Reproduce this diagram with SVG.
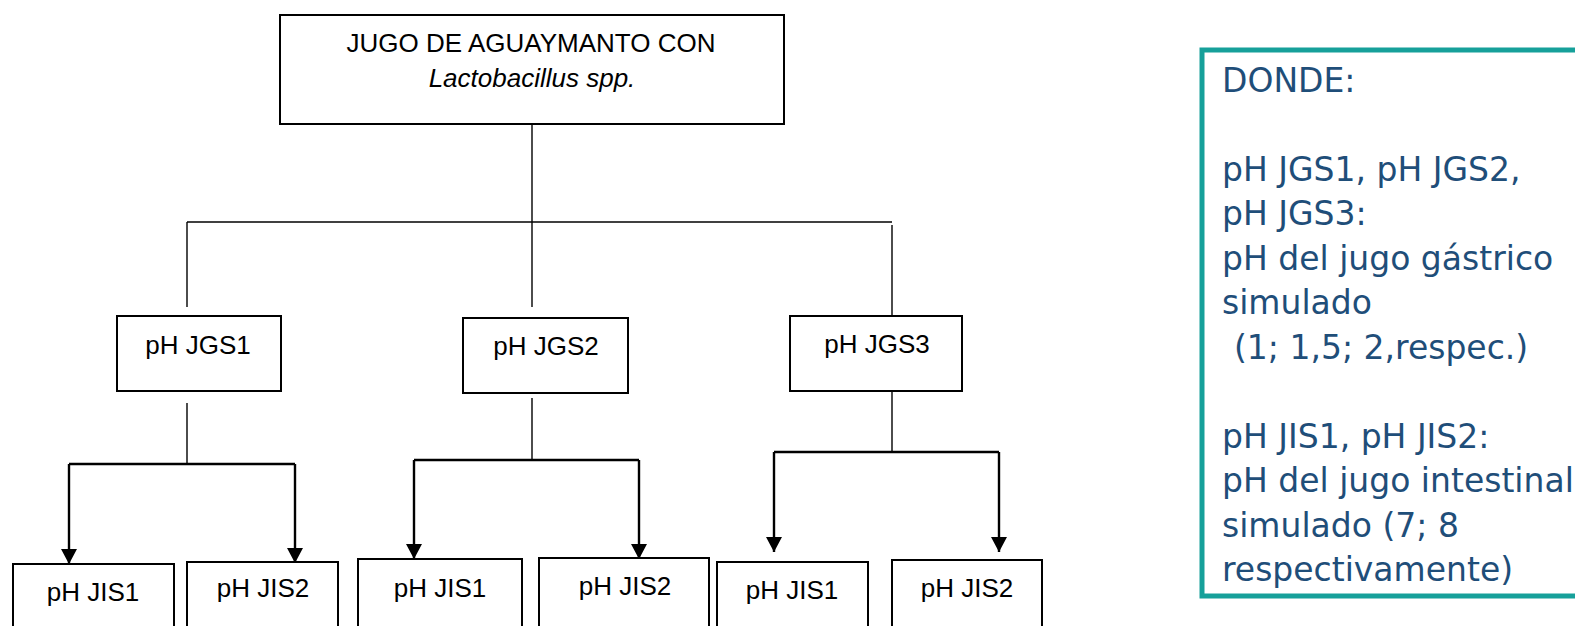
<svg xmlns="http://www.w3.org/2000/svg" width="1575" height="626" viewBox="0 0 1575 626">
<style>
.box{fill:#fff;stroke:#000;stroke-width:2}
.t{font-family:"Liberation Sans",Arial,sans-serif;font-size:26px;fill:#000;text-anchor:middle}
.it{font-style:italic}
.thin{stroke:#000;stroke-width:1.4;fill:none}
.thick{stroke:#000;stroke-width:2.4;fill:none}
.leg{font-family:"DejaVu Sans",Verdana,sans-serif;font-size:33px;fill:#1F4E79}
</style>
<defs>
<marker id="ah" markerUnits="userSpaceOnUse" markerWidth="15" markerHeight="16" refX="15" refY="8" orient="auto">
<path d="M0,0 L15,8 L0,16 z" fill="#000"/>
</marker>
</defs>
<rect width="1575" height="626" fill="#fff"/>
<g id="connectors">
<line class="thin" x1="532" y1="124" x2="532" y2="307"/>
<line class="thin" x1="187" y1="222" x2="892" y2="222"/>
<line class="thin" x1="187" y1="222" x2="187" y2="307"/>
<line class="thin" x1="892" y1="225" x2="892" y2="316"/>
<line class="thin" x1="187" y1="403" x2="187" y2="464"/>
<line class="thick" x1="69" y1="464" x2="295" y2="464"/>
<line class="thick" x1="69" y1="464" x2="69" y2="564" marker-end="url(#ah)"/>
<line class="thick" x1="295" y1="464" x2="295" y2="563" marker-end="url(#ah)"/>
<line class="thin" x1="532" y1="398" x2="532" y2="460"/>
<line class="thick" x1="414" y1="460" x2="639" y2="460"/>
<line class="thick" x1="414" y1="460" x2="414" y2="559" marker-end="url(#ah)"/>
<line class="thick" x1="639" y1="460" x2="639" y2="559" marker-end="url(#ah)"/>
<line class="thin" x1="892" y1="391" x2="892" y2="452"/>
<line class="thick" x1="774" y1="452" x2="999" y2="452"/>
<line class="thick" x1="774" y1="452" x2="774" y2="552" marker-end="url(#ah)"/>
<line class="thick" x1="999" y1="452" x2="999" y2="552" marker-end="url(#ah)"/>
</g>
<g id="root">
<rect class="box" x="280" y="15" width="504" height="109"/>
<text class="t" x="531" y="52">JUGO DE AGUAYMANTO CON</text>
<text class="t it" x="532" y="87">Lactobacillus spp.</text>
</g>
<g id="jgs1">
<rect class="box" x="117" y="316" width="164" height="75"/>
<text class="t" x="198" y="354">pH JGS1</text>
</g>
<g id="jgs2">
<rect class="box" x="463" y="318" width="165" height="75"/>
<text class="t" x="546" y="355">pH JGS2</text>
</g>
<g id="jgs3">
<rect class="box" x="790" y="316" width="172" height="75"/>
<text class="t" x="877" y="353">pH JGS3</text>
</g>
<g id="jis1a">
<rect class="box" x="13" y="564" width="161" height="80"/>
<text class="t" x="93" y="601">pH JIS1</text>
</g>
<g id="jis2a">
<rect class="box" x="187" y="562" width="151" height="80"/>
<text class="t" x="263" y="597">pH JIS2</text>
</g>
<g id="jis1b">
<rect class="box" x="358" y="559" width="164" height="80"/>
<text class="t" x="440" y="597">pH JIS1</text>
</g>
<g id="jis2b">
<rect class="box" x="539" y="558" width="170" height="80"/>
<text class="t" x="625" y="595">pH JIS2</text>
</g>
<g id="jis1c">
<rect class="box" x="717" y="562" width="151" height="80"/>
<text class="t" x="792" y="599">pH JIS1</text>
</g>
<g id="jis2c">
<rect class="box" x="892" y="560" width="150" height="80"/>
<text class="t" x="967" y="597">pH JIS2</text>
</g>
<g id="legend">
<rect x="1202" y="50" width="400" height="546" fill="#fff" stroke="#16A09A" stroke-width="5"/>
<text class="leg" x="1222" y="92">DONDE:</text>
<text class="leg" x="1222" y="181">pH JGS1, pH JGS2,</text>
<text class="leg" x="1222" y="225">pH JGS3:</text>
<text class="leg" x="1222" y="270">pH del jugo gástrico</text>
<text class="leg" x="1222" y="314">simulado</text>
<text class="leg" x="1234" y="359">(1; 1,5; 2,respec.)</text>
<text class="leg" x="1222" y="448">pH JIS1, pH JIS2:</text>
<text class="leg" x="1222" y="492">pH del jugo intestinal</text>
<text class="leg" x="1222" y="537">simulado (7; 8</text>
<text class="leg" x="1222" y="581">respectivamente)</text>
</g>
</svg>
